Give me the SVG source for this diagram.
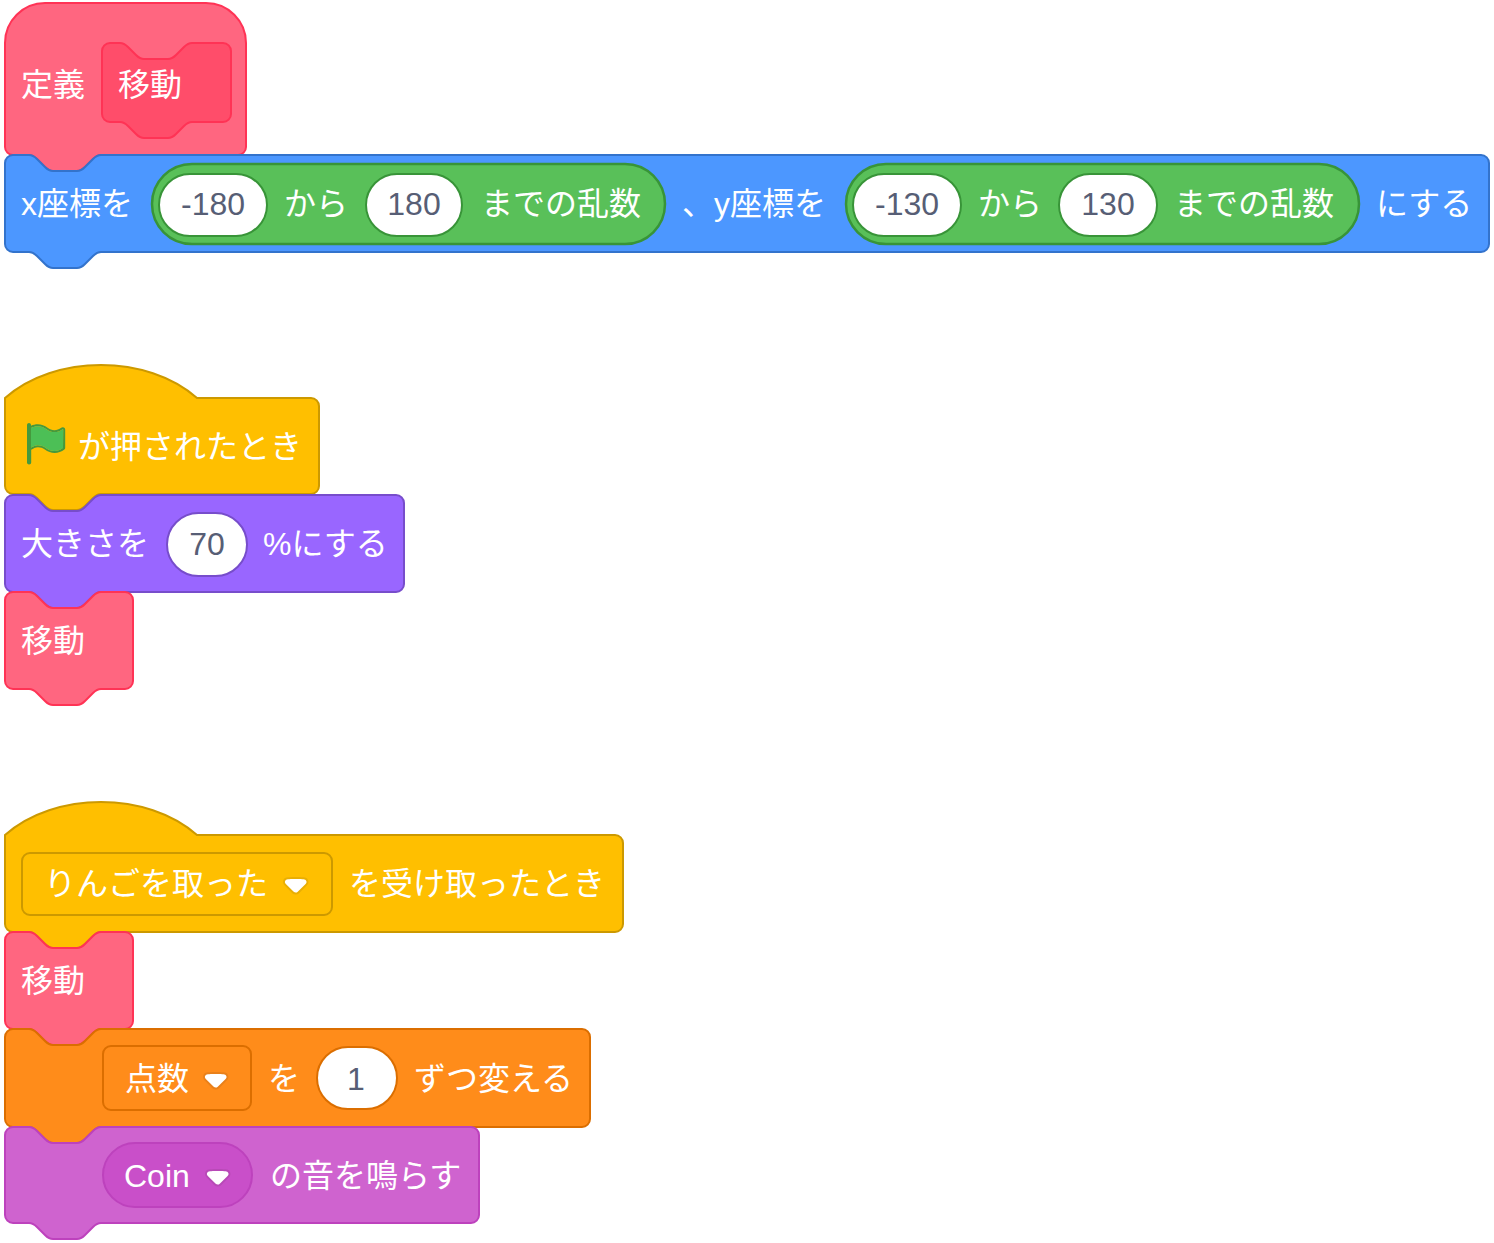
<svg xmlns="http://www.w3.org/2000/svg" width="1494" height="1243" viewBox="0 0 1494 1243">
<style>
.t{font-family:"Liberation Sans","Noto Sans CJK JP",sans-serif;font-size:32px;fill:#fff}
.v{font-family:"Liberation Sans","Noto Sans CJK JP",sans-serif;font-size:32px;fill:#575E75;text-anchor:middle}
.b{stroke-width:2}
.custom{fill:#FF6680;stroke:#FF3355}
.proto{fill:#FF4D6A;stroke:#FF3355}
.motion{fill:#4C97FF;stroke:#3373CC}
.op{fill:#59C059;stroke:#389438;stroke-width:2.5}
.event{fill:#FFBF00;stroke:#CC9900}
.looks{fill:#9966FF;stroke:#774DCB}
.var{fill:#FF8C1A;stroke:#DB6E00}
.sound{fill:#CF63CF;stroke:#BD42BD}
.soundmenu{fill:#C94FC9;stroke:#BD42BD}
</style>
<defs>
<g id="arrow">
<path d="M12.71,2.44A2.41,2.41,0,0,1,12,4.16L8.08,8.08a2.450,2.450,0,0,1-3.45,0L0.72,4.16A2.42,2.42,0,0,1,0,2.44,2.48,2.48,0,0,1,.71.71C1,0.47,1.43,0,6.36,0S11.750,0.46,12,.71A2.440,2.440,0,0,1,12.71,2.44Z" fill="#231f20" opacity="0.1"/>
<path d="M6.36,7.79a1.43,1.43,0,0,1-1-.42L1.42,3.45a1.44,1.44,0,0,1,0-2c0.56-.56,9.31-0.56,9.870,0a1.44,1.44,0,0,1,0,2L7.37,7.37A1.43,1.43,0,0,1,6.360,7.79Z" fill="#fff"/>
</g>
</defs>

<g id="script1">
<g id="define-hat">
<path class="b custom" d="M 5,43 A 40,40 0 0 1 45,3 H 206 A 40,40 0 0 1 246,43 V 147 A 8,8 0 0 1 238,155 H 101 c -4,0 -6,2 -8,4 l -8,8 c -2,2 -4,4 -8,4 h -24 c -4,0 -6,-2 -8,-4 l -8,-8 c -2,-2 -4,-4 -8,-4 H 13 A 8,8 0 0 1 5,147 Z"/>
<text class="t" x="21" y="96">定義</text>
<path class="b proto" d="M 102,51 A 8,8 0 0 1 110,43 H 120 c 4,0 6,2 8,4 l 8,8 c 2,2 4,4 8,4 h 24 c 4,0 6,-2 8,-4 l 8,-8 c 2,-2 4,-4 8,-4 H 223 A 8,8 0 0 1 231,51 V 114 A 8,8 0 0 1 223,122 H 192 c -4,0 -6,2 -8,4 l -8,8 c -2,2 -4,4 -8,4 h -24 c -4,0 -6,-2 -8,-4 l -8,-8 c -2,-2 -4,-4 -8,-4 H 110 A 8,8 0 0 1 102,114 Z"/>
<text class="t" x="118" y="96">移動</text>
</g>
<g id="goto-random">
<path class="b motion" d="M 5,163 A 8,8 0 0 1 13,155 H 29 c 4,0 6,2 8,4 l 8,8 c 2,2 4,4 8,4 h 24 c 4,0 6,-2 8,-4 l 8,-8 c 2,-2 4,-4 8,-4 H 1481 A 8,8 0 0 1 1489,163 V 244 A 8,8 0 0 1 1481,252 H 101 c -4,0 -6,2 -8,4 l -8,8 c -2,2 -4,4 -8,4 h -24 c -4,0 -6,-2 -8,-4 l -8,-8 c -2,-2 -4,-4 -8,-4 H 13 A 8,8 0 0 1 5,244 Z"/>
<text class="t" x="21" y="215">x座標を</text>
<rect class="op" x="152" y="164" width="513" height="80" rx="40"/>
<rect x="159" y="174" width="108" height="62" rx="31" fill="#fff" stroke="#389438" stroke-width="2"/>
<text class="v" x="213" y="215">-180</text>
<text class="t" x="284" y="215">から</text>
<rect x="366" y="174" width="96" height="62" rx="31" fill="#fff" stroke="#389438" stroke-width="2"/>
<text class="v" x="414" y="215">180</text>
<text class="t" x="481" y="215">までの乱数</text>
<text class="t" x="682" y="215">、y座標を</text>
<rect class="op" x="846" y="164" width="513" height="80" rx="40"/>
<rect x="853" y="174" width="108" height="62" rx="31" fill="#fff" stroke="#389438" stroke-width="2"/>
<text class="v" x="907" y="215">-130</text>
<text class="t" x="978" y="215">から</text>
<rect x="1059" y="174" width="98" height="62" rx="31" fill="#fff" stroke="#389438" stroke-width="2"/>
<text class="v" x="1108" y="215">130</text>
<text class="t" x="1174" y="215">までの乱数</text>
<text class="t" x="1376" y="215">にする</text>
</g>
</g>

<g id="script2">
<g id="flag-hat">
<path class="b event" d="M 5,398 c 50,-44 142,-44 192,0 H 311 A 8,8 0 0 1 319,406 V 486 A 8,8 0 0 1 311,494 H 101 c -4,0 -6,2 -8,4 l -8,8 c -2,2 -4,4 -8,4 h -24 c -4,0 -6,-2 -8,-4 l -8,-8 c -2,-2 -4,-4 -8,-4 H 13 A 8,8 0 0 1 5,486 Z"/>
<g transform="translate(22,420) scale(2)">
<path d="M20.8 3.7c-.4-.2-.9-.1-1.2.2-2 1.6-4.8 1.6-6.8 0-2.3-1.9-5.600-2.300-8.300-1v-.4c0-.6-.5-1-1-1s-1 .4-1 1v18.8c0 .5.5 1 1 1h.1c.5 0 1-.5 1-1v-6.4c1-.7 2.1-1.200 3.400-1.300 1.200 0 2.400.4 3.400 1.200 2.900 2.300 7 2.300 9.800 0 .3-.2.4-.5.4-.9V4.700c0-.5-.3-.9-.8-1zm-.3 10.200C18 16 14.400 16 11.900 14c-1.100-.9-2.500-1.400-4-1.400-1.200.1-2.300.5-3.400 1.100V4c2.500-1.400 5.500-1.100 7.700.6 2.400 1.900 5.700 1.900 8.100 0h.2l.1.1-.1 9.200z" fill="#45993d"/>
<path d="M20.6 4.8l-.1 9.1v.1c-2.5 2-6.1 2-8.6 0-1.1-.9-2.5-1.4-4-1.4-1.2.1-2.3.5-3.4 1.1V4c2.5-1.4 5.5-1.1 7.7.6 2.4 1.9 5.7 1.9 8.1 0h.2c0 .1.1.1.1.1z" fill="#4cbf56"/>
</g>
<text class="t" x="78" y="458">が押されたとき</text>
</g>
<g id="set-size">
<path class="b looks" d="M 5,503 A 8,8 0 0 1 13,495 H 29 c 4,0 6,2 8,4 l 8,8 c 2,2 4,4 8,4 h 24 c 4,0 6,-2 8,-4 l 8,-8 c 2,-2 4,-4 8,-4 H 396 A 8,8 0 0 1 404,503 V 584 A 8,8 0 0 1 396,592 H 101 c -4,0 -6,2 -8,4 l -8,8 c -2,2 -4,4 -8,4 h -24 c -4,0 -6,-2 -8,-4 l -8,-8 c -2,-2 -4,-4 -8,-4 H 13 A 8,8 0 0 1 5,584 Z"/>
<text class="t" x="21" y="555">大きさを</text>
<rect x="167" y="513" width="80" height="63" rx="31.5" fill="#fff" stroke="#774DCB" stroke-width="2"/>
<text class="v" x="207" y="555">70</text>
<text class="t" x="263" y="555">%にする</text>
</g>
<g id="call-move-1">
<path class="b custom" d="M 5,600 A 8,8 0 0 1 13,592 H 29 c 4,0 6,2 8,4 l 8,8 c 2,2 4,4 8,4 h 24 c 4,0 6,-2 8,-4 l 8,-8 c 2,-2 4,-4 8,-4 H 125 A 8,8 0 0 1 133,600 V 681 A 8,8 0 0 1 125,689 H 101 c -4,0 -6,2 -8,4 l -8,8 c -2,2 -4,4 -8,4 h -24 c -4,0 -6,-2 -8,-4 l -8,-8 c -2,-2 -4,-4 -8,-4 H 13 A 8,8 0 0 1 5,681 Z"/>
<text class="t" x="21" y="652">移動</text>
</g>
</g>

<g id="script3">
<g id="broadcast-hat">
<path class="b event" d="M 5,835 c 50,-44 142,-44 192,0 H 615 A 8,8 0 0 1 623,843 V 924 A 8,8 0 0 1 615,932 H 101 c -4,0 -6,2 -8,4 l -8,8 c -2,2 -4,4 -8,4 h -24 c -4,0 -6,-2 -8,-4 l -8,-8 c -2,-2 -4,-4 -8,-4 H 13 A 8,8 0 0 1 5,924 Z"/>
<rect x="22" y="853" width="310" height="62" rx="8" fill="#FFBF00" stroke="#CC9900" stroke-width="2"/>
<text class="t" x="44" y="895">りんごを取った</text>
<use href="#arrow" transform="translate(283,877) scale(2)"/>
<text class="t" x="349" y="895">を受け取ったとき</text>
</g>
<g id="call-move-2">
<path class="b custom" d="M 5,940 A 8,8 0 0 1 13,932 H 29 c 4,0 6,2 8,4 l 8,8 c 2,2 4,4 8,4 h 24 c 4,0 6,-2 8,-4 l 8,-8 c 2,-2 4,-4 8,-4 H 125 A 8,8 0 0 1 133,940 V 1021 A 8,8 0 0 1 125,1029 H 101 c -4,0 -6,2 -8,4 l -8,8 c -2,2 -4,4 -8,4 h -24 c -4,0 -6,-2 -8,-4 l -8,-8 c -2,-2 -4,-4 -8,-4 H 13 A 8,8 0 0 1 5,1021 Z"/>
<text class="t" x="21" y="992">移動</text>
</g>
<g id="change-score">
<path class="b var" d="M 5,1037 A 8,8 0 0 1 13,1029 H 29 c 4,0 6,2 8,4 l 8,8 c 2,2 4,4 8,4 h 24 c 4,0 6,-2 8,-4 l 8,-8 c 2,-2 4,-4 8,-4 H 582 A 8,8 0 0 1 590,1037 V 1119 A 8,8 0 0 1 582,1127 H 101 c -4,0 -6,2 -8,4 l -8,8 c -2,2 -4,4 -8,4 h -24 c -4,0 -6,-2 -8,-4 l -8,-8 c -2,-2 -4,-4 -8,-4 H 13 A 8,8 0 0 1 5,1119 Z"/>
<rect x="103" y="1046" width="148" height="64" rx="8" fill="#FF8C1A" stroke="#DB6E00" stroke-width="2"/>
<text class="t" x="125" y="1090">点数</text>
<use href="#arrow" transform="translate(203,1072) scale(2)"/>
<text class="t" x="268" y="1090">を</text>
<rect x="317" y="1047" width="80" height="62" rx="31" fill="#fff" stroke="#DB6E00" stroke-width="2"/>
<text class="v" x="356" y="1090">1</text>
<text class="t" x="414" y="1090">ずつ変える</text>
</g>
<g id="play-sound">
<path class="b sound" d="M 5,1135 A 8,8 0 0 1 13,1127 H 29 c 4,0 6,2 8,4 l 8,8 c 2,2 4,4 8,4 h 24 c 4,0 6,-2 8,-4 l 8,-8 c 2,-2 4,-4 8,-4 H 471 A 8,8 0 0 1 479,1135 V 1215 A 8,8 0 0 1 471,1223 H 101 c -4,0 -6,2 -8,4 l -8,8 c -2,2 -4,4 -8,4 h -24 c -4,0 -6,-2 -8,-4 l -8,-8 c -2,-2 -4,-4 -8,-4 H 13 A 8,8 0 0 1 5,1215 Z"/>
<rect class="b soundmenu" x="103" y="1143" width="149" height="64" rx="32"/>
<text class="t" x="124" y="1187">Coin</text>
<use href="#arrow" transform="translate(205,1169) scale(2)"/>
<text class="t" x="270" y="1187">の音を鳴らす</text>
</g>
</g>
</svg>
